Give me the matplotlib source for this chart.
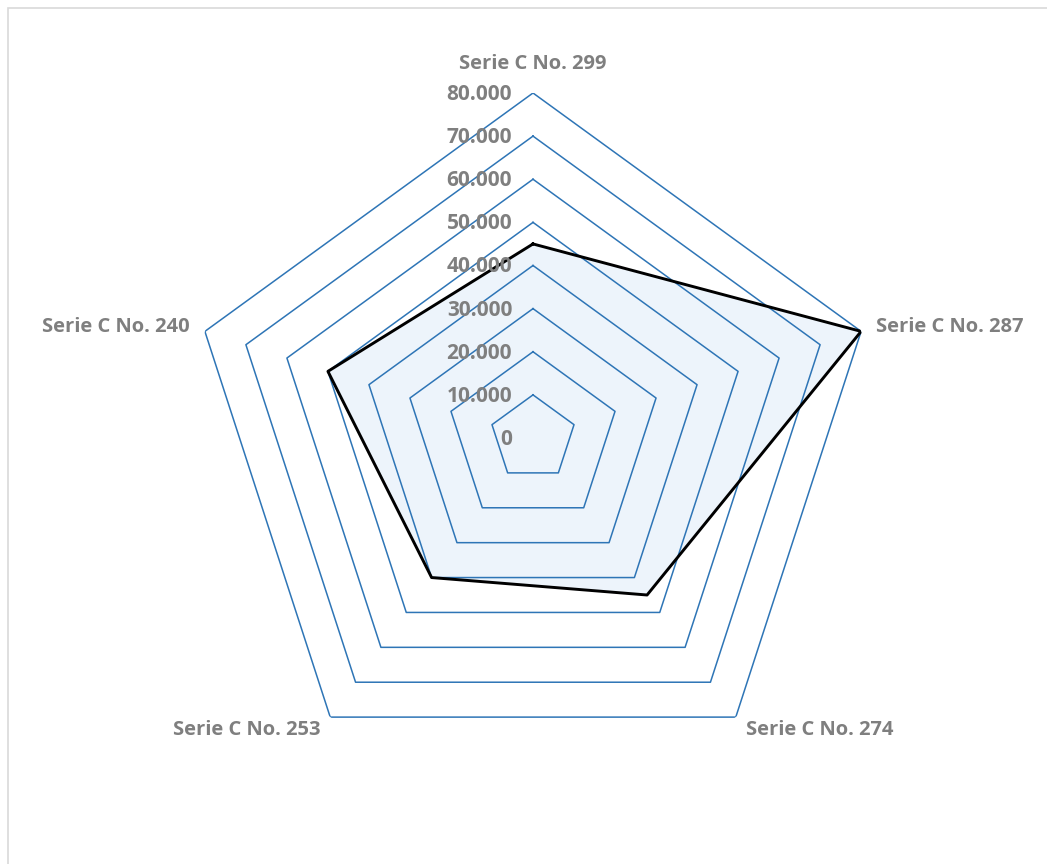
import numpy as np
import matplotlib
matplotlib.use("Agg")
import matplotlib.pyplot as plt
from matplotlib.patches import Rectangle

categories = ["Serie C No. 299", "Serie C No. 287", "Serie C No. 274",
              "Serie C No. 253", "Serie C No. 240"]
values = [45000, 80000, 45000, 40000, 50000]
levels = [0, 10000, 20000, 30000, 40000, 50000, 60000, 70000, 80000]
level_labels = ["0", "10.000", "20.000", "30.000", "40.000",
                "50.000", "60.000", "70.000", "80.000"]

GRID = "#2E75B6"
TEXT = "#7F7F7F"
FILL = "#EDF4FB"

plt.rcParams["font.family"] = ["Open Sans", "DejaVu Sans"]

W, H = 1047, 864
fig = plt.figure(figsize=(W / 100, H / 100), dpi=100)
cx, cy, R = 533, 438, 345
ax = fig.add_axes([(cx - R) / W, (H - cy - R) / H, 2 * R / W, 2 * R / H],
                  projection="polar")
ax.set_theta_offset(np.pi / 2)
ax.set_theta_direction(-1)
ax.set_ylim(0, levels[-1])
ax.grid(False)
ax.spines["polar"].set_visible(False)
ax.set_xticks([])
ax.set_yticks([])
ax.patch.set_alpha(0)

n = len(categories)
theta = np.linspace(0, 2 * np.pi, n, endpoint=False)
closed_t = np.append(theta, theta[0])

# data area
vals = np.append(values, values[0])
ax.fill(closed_t, vals, color=FILL, zorder=1)

# polygonal grid rings
for lv in levels[1:]:
    ax.plot(closed_t, [lv] * (n + 1), color=GRID, lw=1.1, zorder=2)

# data outline
ax.plot(closed_t, vals, color="black", lw=2.1, zorder=3)

# radial value labels
for lv, lab in zip(levels, level_labels):
    ax.annotate(lab, xy=(0, lv), xytext=(-15, -1), textcoords="offset points",
                ha="right", va="center", fontsize=15, fontweight="bold",
                color=TEXT, zorder=4)

# category labels
offsets = [((0, 21), "center", "center"),
           ((11, 3), "left", "center"),
           ((7, -9), "left", "center"),
           ((-7, -9), "right", "center"),
           ((-11, 3), "right", "center")]
for t, cat, (off, ha, va) in zip(theta, categories, offsets):
    ax.annotate(cat, xy=(t, levels[-1]), xytext=off, textcoords="offset points",
                ha=ha, va=va, fontsize=14.5, fontweight="bold", color=TEXT)

# chart area border
fig.add_artist(Rectangle((7.5 / W, -0.05), 1.1, 1.05 - 7.5 / H,
                         transform=fig.transFigure, fill=False,
                         edgecolor="#D9D9D9", lw=1.2))

fig.savefig("out.png", dpi=100)
